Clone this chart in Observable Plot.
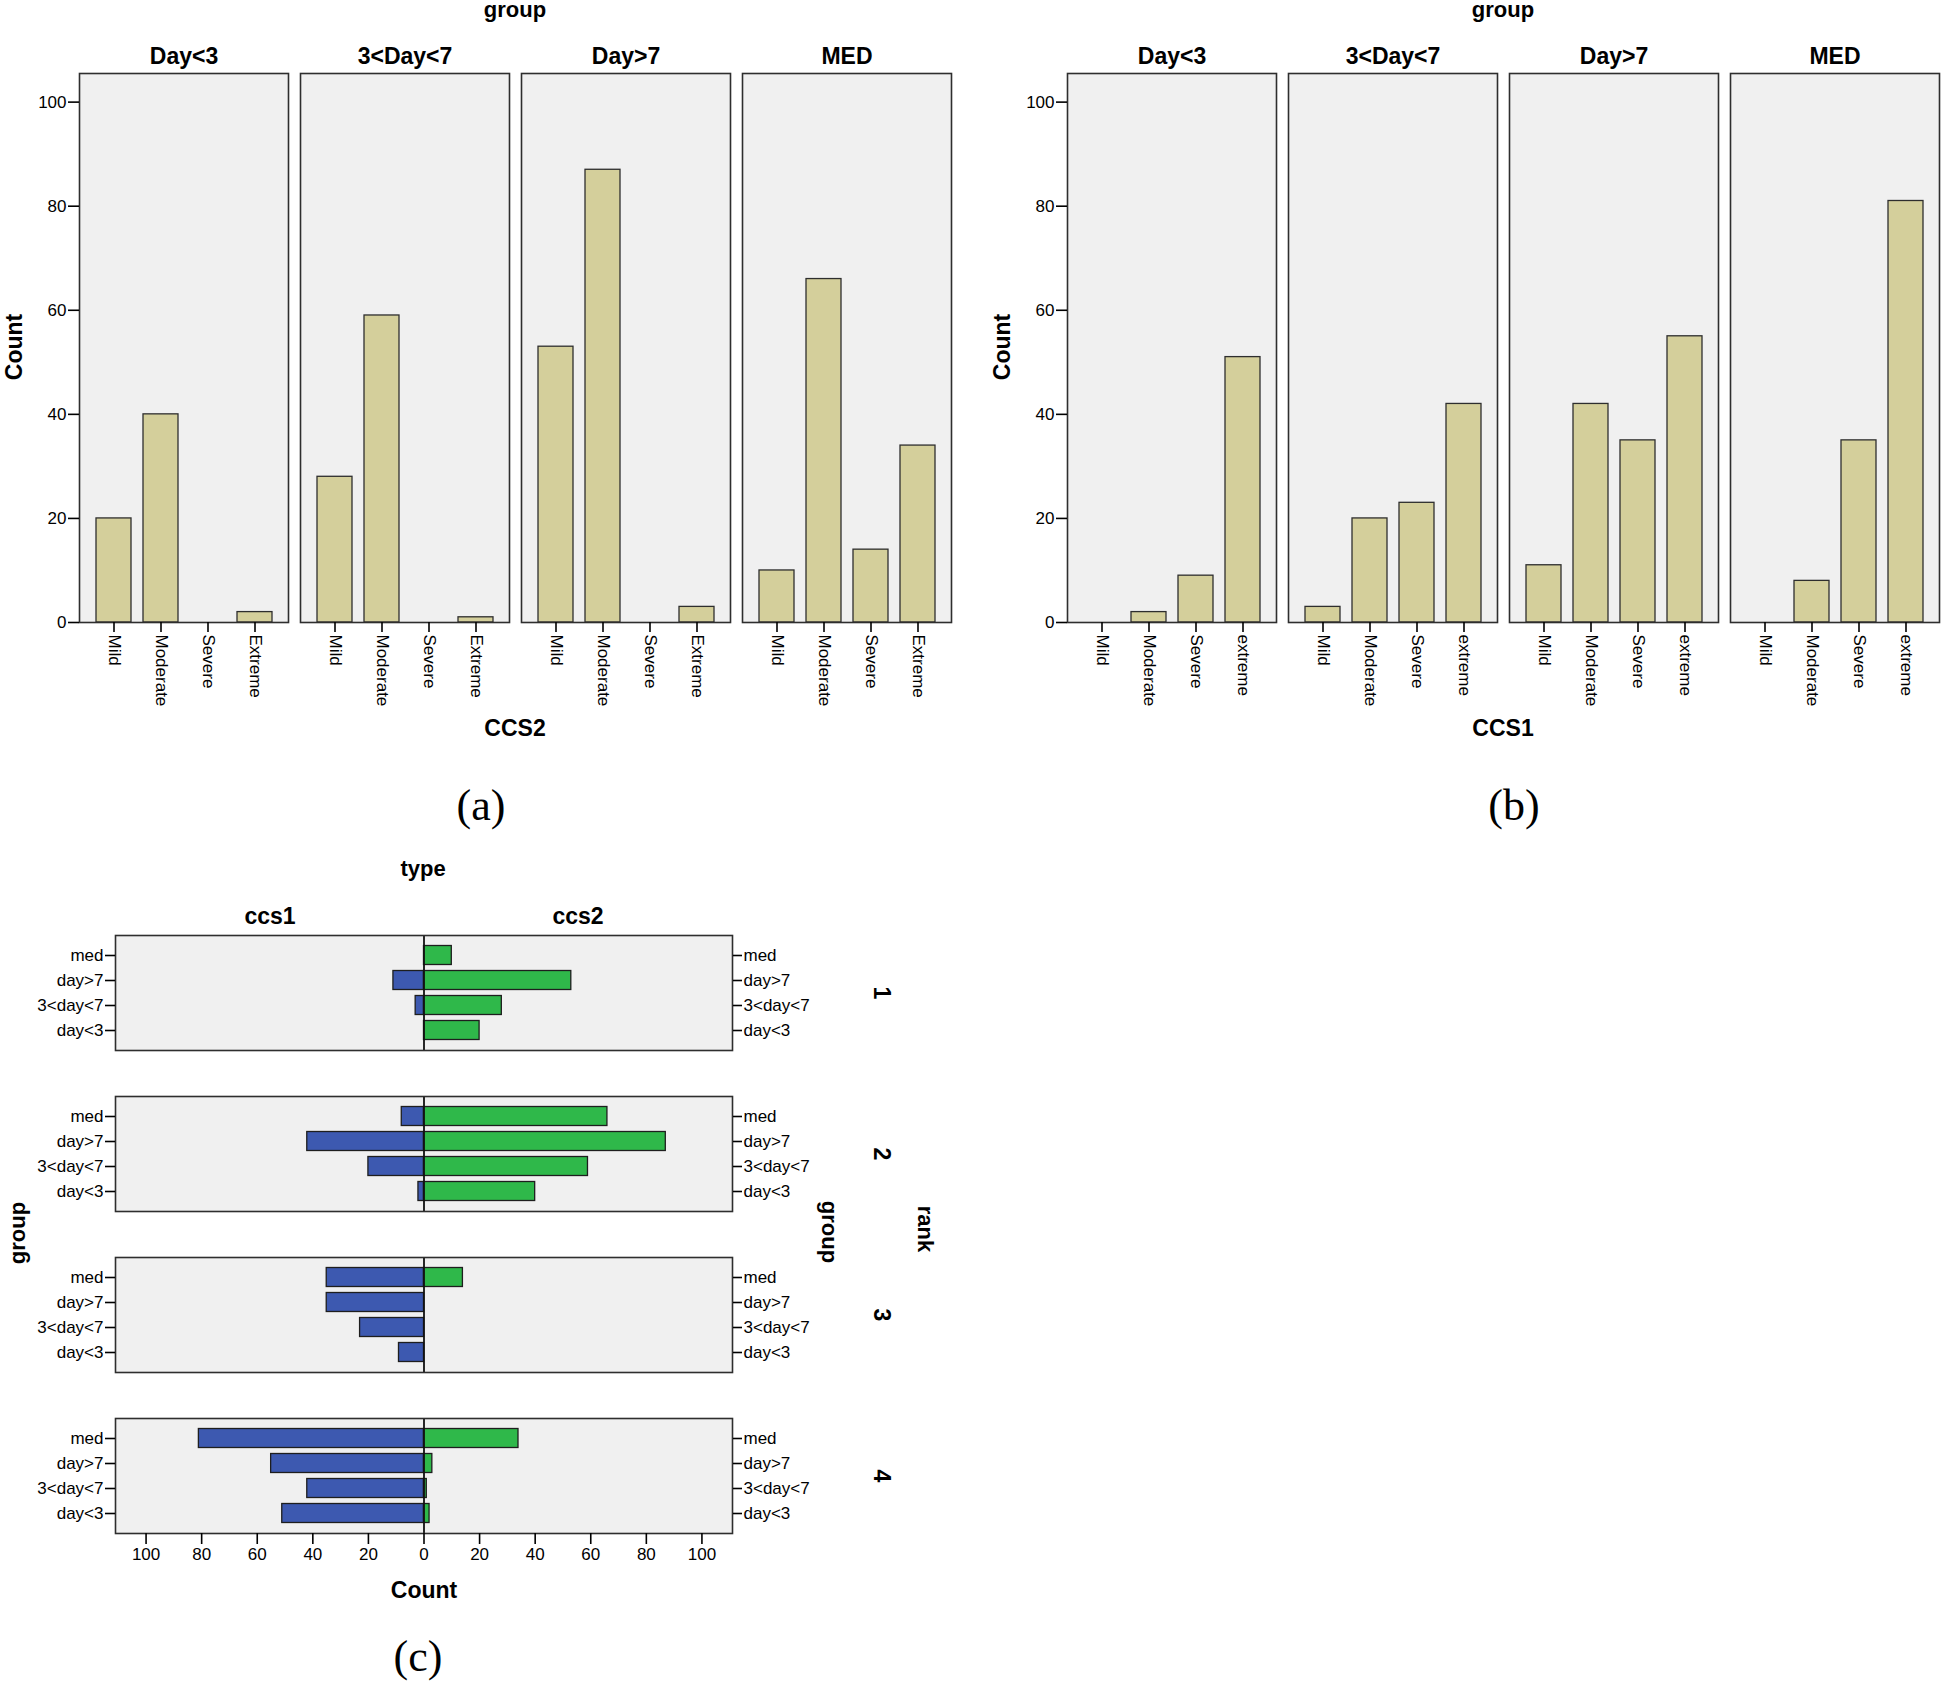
<!DOCTYPE html>
<html><head><meta charset="utf-8">
<script src="https://cdn.jsdelivr.net/npm/d3@7"></script>
<script src="https://cdn.jsdelivr.net/npm/@observablehq/plot@0.6"></script>
<style>
body{margin:0;background:#fff;overflow:hidden}
#page{position:relative;width:1946px;height:1684px;font-family:"Liberation Sans",Arial,sans-serif;background:#fff}
.lbl{position:absolute;white-space:nowrap;line-height:1;color:#000}
.plot{position:absolute}
</style></head><body><div id="page"></div>
<script>
// ---------- data ----------
const groups = ["Day<3", "3<Day<7", "Day>7", "MED"];
const ccs2Levels = ["Mild", "Moderate", "Severe", "Extreme"];
const ccs1Levels = ["Mild", "Moderate", "Severe", "extreme"];
const ccs2Day3 = [20, 40, 0, 2];
const ccs2Day3to7 = [28, 59, 0, 1];
const ccs2Day7 = [53, 87, 0, 3];
const ccs2Med = [10, 66, 14, 34];
const ccs1Day3 = [0, 2, 9, 51];
const ccs1Day3to7 = [3, 20, 23, 42];
const ccs1Day7 = [11, 42, 35, 55];
const ccs1Med = [0, 8, 35, 81];
const yTicks = [0, 20, 40, 60, 80, 100];
const cGroupNames = ["day<3", "3<day<7", "day>7", "med"];
const ranks = ["1", "2", "3", "4"];
const types = ["ccs1", "ccs2"];
const cTicks = [-100, -80, -60, -40, -20, 0, 20, 40, 60, 80, 100];

const ccs2Series = [ccs2Day3, ccs2Day3to7, ccs2Day7, ccs2Med];
const ccs1Series = [ccs1Day3, ccs1Day3to7, ccs1Day7, ccs1Med];

const FONT = '"Liberation Sans", Arial, sans-serif';
const TAN = "#d4cf9b", BG = "#f0f0f0", EDGE = "#2e2e2e";
const BLUE = "#3d59b0", GREEN = "#2fb84a";
const TICK_FS = 17;

const page = document.getElementById("page");
function label(text, x, y, size, opts = {}) {
  const d = document.createElement("div");
  d.className = "lbl";
  d.textContent = text;
  d.style.left = x + "px";
  d.style.top = y + "px";
  d.style.fontSize = size + "px";
  d.style.fontWeight = opts.weight || "bold";
  d.style.fontFamily = opts.family || FONT;
  d.style.transform = `translate(-50%,-50%) rotate(${opts.rotate || 0}deg)`;
  page.appendChild(d);
}
function place(svg, left, top) {
  svg.classList.add("plot");
  svg.style.left = left + "px";
  svg.style.top = top + "px";
  page.appendChild(svg);
}

function facetBars(series, levels, width, marginRight) {
  const table = groups.flatMap((g, i) => levels.map((l, j) => ({group: g, level: l, count: series[i][j]})));
  return Plot.plot({
    width, height: 740,
    marginLeft: 78, marginRight, marginTop: 73, marginBottom: 118,
    style: {fontFamily: FONT, background: "transparent", color: "#000"},
    fx: {domain: groups, paddingInner: 0.056, paddingOuter: 0, axis: null},
    x: {domain: levels, paddingInner: 0.26, paddingOuter: 0.35, axis: null},
    y: {domain: [0, 105.5], axis: null},
    marks: [
      Plot.frame({fill: BG, stroke: null}),
      Plot.barY(table, {fx: "group", x: "level", y: "count", fill: TAN, stroke: EDGE, strokeWidth: 1.3, filter: d => d.count > 0}),
      Plot.frame({stroke: EDGE, strokeWidth: 1.6}),
      Plot.axisY({ticks: yTicks, tickSize: 11, tickPadding: 2, fontSize: TICK_FS, strokeWidth: 1.6, label: null}),
      Plot.axisX({tickRotate: 90, tickSize: 10, tickPadding: 2, fontSize: TICK_FS, strokeWidth: 1.6, label: null}),
      Plot.axisFx({anchor: "top", tickSize: 0, tickPadding: 10, fontSize: 23, fontWeight: "bold", label: null})
    ]
  });
}

// (a)
place(facetBars(ccs2Series, ccs2Levels, 975, 23), 0, 0);
label("group", 515, 10, 22);
label("Count", 14, 347, 23, {rotate: -90});
label("CCS2", 515, 728, 23);
label("(a)", 481, 806, 44, {weight: "normal", family: '"Liberation Serif","Times New Roman",serif'});

// (b)
place(facetBars(ccs1Series, ccs1Levels, 958, 6), 988, 0);
label("group", 1503, 10, 22);
label("Count", 1002, 347, 23, {rotate: -90});
label("CCS1", 1503, 728, 23);
label("(b)", 1514, 806, 44, {weight: "normal", family: '"Liberation Serif","Times New Roman",serif'});

// (c)
const tableC = ranks.flatMap((r, k) => types.flatMap(t => groups.map((g, i) => ({
  rank: r, type: t, group: cGroupNames[i],
  count: (t === "ccs1" ? ccs1Series : ccs2Series)[i][k]
}))));
const plotC = Plot.plot({
  width: 960, height: 700,
  marginLeft: 115, marginRight: 228, marginTop: 54.5, marginBottom: 47.4,
  style: {fontFamily: FONT, background: "transparent", color: "#000"},
  fy: {domain: ranks, paddingInner: 0.288, paddingOuter: 0, axis: null},
  y: {domain: cGroupNames.slice().reverse(), paddingInner: 0.25, paddingOuter: 0.36, axis: null},
  x: {domain: [-111, 111], axis: null},
  color: {domain: types, range: [BLUE, GREEN]},
  marks: [
    Plot.frame({fill: BG, stroke: null}),
    Plot.barX(tableC, {fy: "rank", y: "group", x1: 0, x2: d => d.type === "ccs1" ? -d.count : d.count,
      fill: "type", stroke: "#1e1e1e", strokeWidth: 1.3, filter: d => d.count > 0}),
    Plot.ruleX([0], {stroke: "#111", strokeWidth: 1.8}),
    Plot.frame({stroke: EDGE, strokeWidth: 1.6}),
    Plot.axisY({anchor: "left", tickSize: 10, tickPadding: 2, fontSize: TICK_FS, strokeWidth: 1.6, label: null}),
    Plot.axisY({anchor: "right", tickSize: 9, tickPadding: 2, fontSize: TICK_FS, strokeWidth: 1.6, label: null}),
    Plot.axisX({ticks: cTicks, tickFormat: d => Math.abs(d), tickSize: 11, tickPadding: 3, fontSize: TICK_FS, strokeWidth: 1.6, label: null}),
    Plot.axisFy({anchor: "right", tickSize: 0, tickPadding: 158, tickRotate: 90, fontSize: 23, fontWeight: "bold", label: null})
  ]
});
place(plotC, 0, 880);
label("type", 423, 869, 22);
label("ccs1", 270, 916, 23);
label("ccs2", 578, 916, 23);
label("group", 18, 1233, 22, {rotate: -90});
label("group", 829, 1232, 22, {rotate: 90});
label("rank", 925, 1229, 22, {rotate: 90});
label("Count", 424, 1590, 23);
label("(c)", 418, 1657, 44, {weight: "normal", family: '"Liberation Serif","Times New Roman",serif'});
</script></body></html>
